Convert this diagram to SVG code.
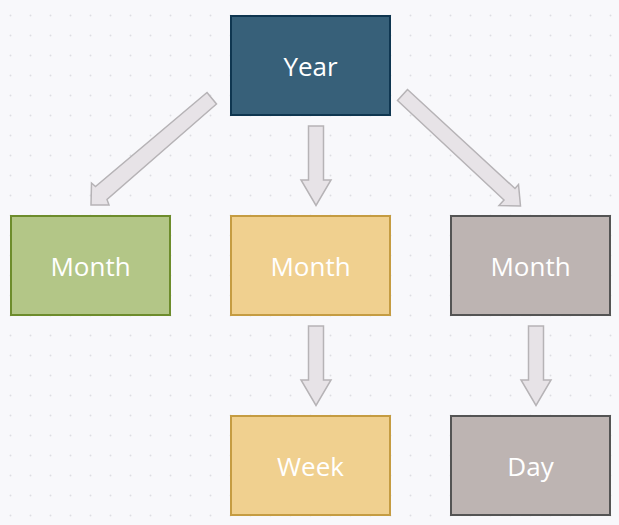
<svg xmlns="http://www.w3.org/2000/svg" width="619" height="525" viewBox="0 0 619 525">
<defs>
<pattern id="dots" width="20" height="20" patternUnits="userSpaceOnUse">
<circle cx="10.5" cy="15.5" r="1" fill="#dedee3"/>
</pattern>
<style>
.lbl{font-family:"Open Sans","Noto Sans","DejaVu Sans",sans-serif;font-size:26px;fill:#ffffff;text-anchor:middle}
.box{stroke-width:2}
.year{fill:#376079;stroke:#0f3650}
.green{fill:#b3c687;stroke:#6d8c2c}
.yellow{fill:#f0d08f;stroke:#c59c42}
.gray{fill:#bdb4b2;stroke:#545454}
.arrow{fill:#e7e3e7;stroke:#b6b3b6;stroke-width:1.5;stroke-linejoin:miter}
</style>
</defs>
<rect width="619" height="525" fill="#f8f8fb"/>
<rect width="619" height="525" fill="url(#dots)"/>
<g id="connectors">
<polygon class="arrow" points="207,92.5 216.5,104 107,199.5 109,205 91,205 91.5,183 95.5,186.5"/>
<polygon class="arrow" points="308.5,126 323.5,126 323.5,180 331,180 316,205.5 301,180 308.5,180"/>
<polygon class="arrow" points="407.5,89.5 397.5,100.5 504,200 499,205.5 520.5,206 518.5,184.5 515,188.5"/>
<polygon class="arrow" points="308.5,326 323.5,326 323.5,380 331,380 316,405.5 301,380 308.5,380"/>
<polygon class="arrow" points="528.5,326 543.5,326 543.5,380 551,380 536,405.5 521,380 528.5,380"/>
</g>
<g id="year"><rect class="box year" x="231" y="16" width="159" height="99"/><text class="lbl" x="310.5" y="76">Year</text></g>
<g id="month1"><rect class="box green" x="11" y="216" width="159" height="99"/><text class="lbl" x="90.5" y="276">Month</text></g>
<g id="month2"><rect class="box yellow" x="231" y="216" width="159" height="99"/><text class="lbl" x="310.5" y="276">Month</text></g>
<g id="month3"><rect class="box gray" x="451" y="216" width="159" height="99"/><text class="lbl" x="530.5" y="276">Month</text></g>
<g id="week"><rect class="box yellow" x="231" y="416" width="159" height="99"/><text class="lbl" x="310.5" y="476">Week</text></g>
<g id="day"><rect class="box gray" x="451" y="416" width="159" height="99"/><text class="lbl" x="530.5" y="476">Day</text></g>
</svg>
